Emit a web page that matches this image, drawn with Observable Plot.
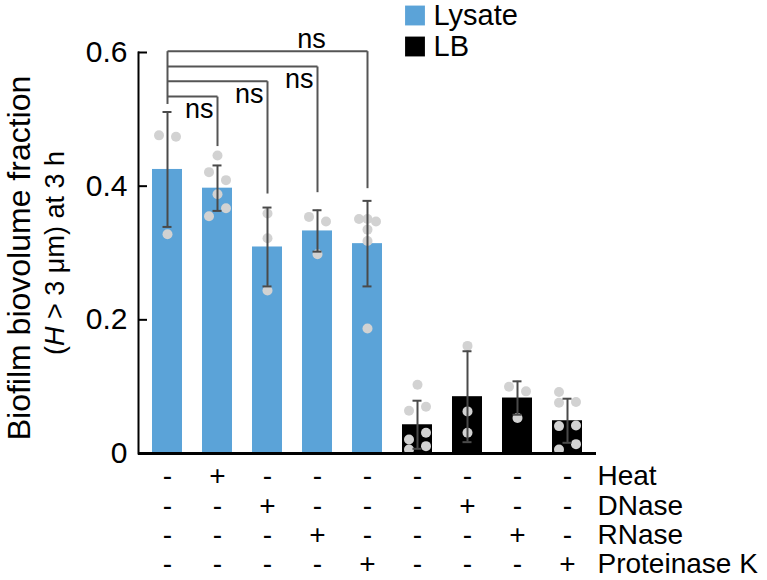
<!DOCTYPE html>
<html><head><meta charset="utf-8">
<script src="https://cdn.jsdelivr.net/npm/d3@7"></script>
<script src="https://cdn.jsdelivr.net/npm/@observablehq/plot@0.6"></script>
<style>body{margin:0;background:#fff;}</style>
</head><body><div id="chart"></div>
<script>
// ---- data ----
const groups = ["Lysate", "Lysate+Heat", "Lysate+DNase", "Lysate+RNase", "Lysate+ProtK", "LB", "LB+DNase", "LB+RNase", "LB+ProtK"];
const media = ["Lysate", "Lysate", "Lysate", "Lysate", "Lysate", "LB", "LB", "LB", "LB"];
const means = [0.425, 0.397, 0.309, 0.333, 0.314, 0.043, 0.085, 0.083, 0.049];
const sds = [0.086, 0.034, 0.059, 0.031, 0.064, 0.036, 0.068, 0.025, 0.033];
// replicate values with jitter slot (-1 left, 0 centre, 1 right)
const replicates = [
  [[0.476, -1], [0.474, 1], [0.328, 0]],
  [[0.446, 0], [0.421, -1], [0.409, 1], [0.388, 0], [0.367, 1], [0.355, -1]],
  [[0.359, 0], [0.322, 0], [0.244, 0]],
  [[0.354, -1], [0.347, 1], [0.298, 0]],
  [[0.351, -1], [0.351, 0], [0.347, 1], [0.335, 0], [0.318, 0], [0.187, 0]],
  [[0.103, 0], [0.064, -1], [0.070, 1], [0.031, 1], [0.021, -1], [0.011, 1], [0.006, -1]],
  [[0.161, 0], [0.063, 0], [0.031, 0]],
  [[0.100, -1], [0.093, 1], [0.053, 0]],
  [[0.092, -1], [0.076, -1], [0.077, 1], [0.041, -1], [0.042, 1], [0.014, 1], [0.006, -1]]
];
const heat  = ["-", "+", "-", "-", "-", "-", "-", "-", "-"];
const dnase = ["-", "-", "+", "-", "-", "-", "+", "-", "-"];
const rnase = ["-", "-", "-", "+", "-", "-", "-", "+", "-"];
const protK = ["-", "-", "-", "-", "+", "-", "-", "-", "+"];
const rowLabels = ["Heat", "DNase", "RNase", "Proteinase K"];
const yTicks = [0, 0.2, 0.4, 0.6];
const yTickLabels = ["0", "0.2", "0.4", "0.6"];
const legendLabels = ["Lysate", "LB"];
const colors = ["#5ba3d8", "#000000"];
// significance brackets: all compared with group 0
const bracketTargets = [1, 2, 3, 4];
const bracketLevels = [0.534, 0.557, 0.579, 0.602];
const bracketEnds = [0.460, 0.389, 0.391, 0.397];
const bracketStart = 0.523;
const bracketLabels = ["ns", "ns", "ns", "ns"];
const yTitle = "Biofilm biovolume fraction";
const ySubtitle = "(H > 3 μm) at 3 h";

// ---- derived tables ----
const bars = groups.map((g, i) => ({group: g, medium: media[i], mean: means[i], lo: means[i] - sds[i], hi: means[i] + sds[i]}));
const points = groups.flatMap((g, i) => replicates[i].map(([v, s]) => ({group: g, value: v, slot: s})));
const signRows = [heat, dnase, rnase, protK];
const links = [];
links.push({x1: groups[0], x2: groups[0], y1: bracketLevels[bracketLevels.length - 1], y2: bracketStart});
bracketTargets.forEach((t, k) => {
  links.push({x1: groups[0], x2: groups[t], y1: bracketLevels[k], y2: bracketLevels[k]});
  links.push({x1: groups[t], x2: groups[t], y1: bracketLevels[k], y2: bracketEnds[k]});
});
const innerLabels = bracketTargets.slice(0, -1).map((t, k) => ({group: groups[t], y: bracketLevels[k], label: bracketLabels[k]}));
const topK = bracketTargets.length - 1;
const topLabel = [{group: groups[bracketTargets[topK] - 1], y: bracketLevels[topK], label: bracketLabels[topK]}];

const FONT = "'Liberation Sans', Arial, Helvetica, sans-serif";
const INK = "#4a4a4a";
const rowDy = [23, 53, 82, 111];

const marks = [
  Plot.barY(bars, {x: "group", y: "mean", fill: "medium"}),
  ...[-1, 0, 1].map(s => Plot.dot(points.filter(d => d.slot === s), {x: "group", y: "value", r: 5, fill: "#d2d2d2", dx: s * 8.5})),
  Plot.ruleX(bars, {x: "group", y1: "lo", y2: "hi", stroke: INK, strokeWidth: 2}),
  Plot.tickY(bars, {x: "group", y: "lo", stroke: INK, strokeWidth: 2, inset: 10.5}),
  Plot.tickY(bars, {x: "group", y: "hi", stroke: INK, strokeWidth: 2, inset: 10.5}),
  Plot.ruleY([0], {stroke: "#000", strokeWidth: 3}),
  Plot.frame({anchor: "left", stroke: "#000", strokeWidth: 2}),
  Plot.axisY({ticks: yTicks, tickFormat: d => yTickLabels[yTicks.indexOf(d)], tickSize: -9, tickPadding: 20, fontSize: 30, strokeWidth: 2, stroke: "#000", fill: "#000", label: null}),
  Plot.link(links, {x1: "x1", x2: "x2", y1: "y1", y2: "y2", stroke: "#555", strokeWidth: 2}),
  Plot.text(innerLabels, {x: "group", y: "y", text: "label", textAnchor: "end", dx: -4, dy: 13, fontSize: 27, fill: "#000"}),
  Plot.text(topLabel, {x: "group", y: "y", text: "label", textAnchor: "middle", dx: -6, dy: -12, fontSize: 27, fill: "#000"}),
  ...signRows.map((row, r) => Plot.text(groups.map((g, i) => ({group: g, sign: row[i]})), {x: "group", text: "sign", frameAnchor: "bottom", lineAnchor: "middle", dy: rowDy[r], fontSize: 28, fill: "#000"})),
  ...rowLabels.map((lab, r) => Plot.text([lab], {x: () => groups[groups.length - 1], text: d => d, frameAnchor: "bottom", lineAnchor: "middle", dy: rowDy[r], dx: 30, textAnchor: "start", fontSize: 28, fill: "#000"})),
  Plot.text([yTitle], {text: d => d, frameAnchor: "left", textAnchor: "middle", lineAnchor: "middle", rotate: -90, dx: -119, dy: 5, fontSize: 32, fill: "#000"}),
  Plot.text([ySubtitle], {text: d => d, frameAnchor: "left", textAnchor: "middle", lineAnchor: "middle", rotate: -90, dx: -83, dy: 0, fontSize: 27, fill: "#000"}),
  ...legendLabels.map((lab, k) => Plot.dot([lab], {fill: d => d, symbol: "square", r: 11.2, frameAnchor: "top-left", dx: 276.5, dy: [-37, -6][k]})),
  ...legendLabels.map((lab, k) => Plot.text([lab], {text: d => d, frameAnchor: "top-left", textAnchor: "start", lineAnchor: "middle", dx: 295, dy: [-37, -6][k], fontSize: 29, fill: "#000"}))
];

const chart = Plot.plot({
  width: 767,
  height: 580,
  marginTop: 52,
  marginBottom: 127,
  marginLeft: 138,
  marginRight: 171,
  style: {fontFamily: FONT, background: "#fff", color: "#000", overflow: "visible"},
  x: {type: "band", domain: groups, paddingInner: 0.4, paddingOuter: 0.28, axis: null},
  y: {domain: [0, 0.6], axis: null},
  color: {domain: legendLabels, range: colors},
  marks
});
// italic H in the subtitle
chart.querySelectorAll("text").forEach(t => {
  if (t.textContent === ySubtitle) {
    t.textContent = "";
    const ns = "http://www.w3.org/2000/svg";
    const parts = [["(", null], ["H", "italic"], [" > 3 μm) at 3 h", null]];
    for (const [s, st] of parts) {
      const ts = document.createElementNS(ns, "tspan");
      if (st) ts.setAttribute("font-style", st);
      ts.textContent = s;
      t.appendChild(ts);
    }
  }
});
document.getElementById("chart").append(chart);
</script></body></html>
